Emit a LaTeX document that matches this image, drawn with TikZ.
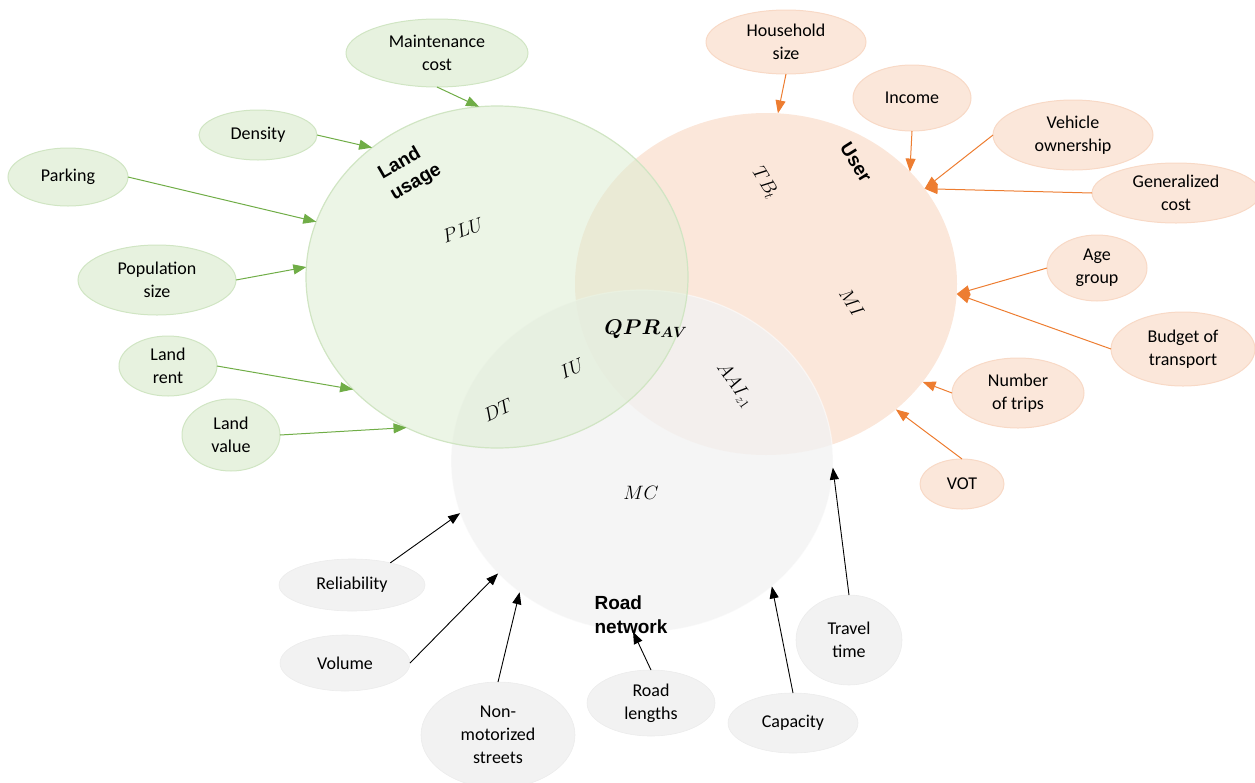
\documentclass[tikz,border=0pt]{standalone}
\usepackage{fontspec}
\setmainfont{Carlito}
\newfontfamily\arialfont{Liberation Sans}
\usepackage{bm}
\usetikzlibrary{arrows.meta,shapes.geometric}
\definecolor{gfill}{HTML}{DDEDD2}
\definecolor{gline}{HTML}{D0E5C3}
\definecolor{ofill}{HTML}{FBE7DA}
\definecolor{oline}{HTML}{F8D9C6}
\definecolor{kfill}{HTML}{F2F2F2}
\definecolor{garrow}{HTML}{70AD47}
\definecolor{oarrow}{HTML}{ED7D31}
\begin{document}
\begin{tikzpicture}[x=1pt,y=-1pt,
  every node/.style={inner sep=0pt,outer sep=0pt,font=\fontsize{18}{23}\selectfont,align=center},
  bigc/.style={ellipse,minimum width=382pt,minimum height=342pt},
  gnode/.style={ellipse,fill=gfill!70!white,draw=gline,line width=1pt},
  onode/.style={ellipse,fill=ofill,draw=oline,line width=1pt},
  knode/.style={ellipse,fill=kfill,draw=kfill!92!black!60!white,line width=0.6pt},
  garr/.style={draw=garrow,line width=1pt,-{Triangle[length=13pt,width=10pt]}},
  oarr/.style={draw=oarrow,line width=1pt,-{Triangle[length=13pt,width=10pt]}},
  karr/.style={draw=black,line width=0.9pt,-{Triangle[length=12pt,width=9pt]}},
  tlabel/.style={font=\arialfont\bfseries\fontsize{19}{24}\selectfont,align=left},
  mlabel/.style={font=\fontsize{17.28}{21}\selectfont,scale=1.12}
]
\useasboundingbox (0,0) rectangle (1255,782);
% big circles
\node[bigc,fill=ofill] (US) at (766,284) {};
\node[bigc,fill=kfill,fill opacity=0.8,draw=white,draw opacity=0.5,line width=1.2pt] (RN) at (642,461) {};
\node[bigc,fill=gfill,fill opacity=0.55,draw=gline,line width=1.2pt] (LU) at (497,277) {};

% circle labels
\node[tlabel,rotate=30] (lulab) at (410,172) {Land\\ usage};
\node[tlabel,rotate=-58] (uslab) at (856,162) {User};
\node[tlabel] (rnlab) at (631,615) {Road\\network};

\node[mlabel,rotate=20] (plu) at (463,230) {$PLU$};
\node[mlabel,scale=1.1] (qpr) at (646,329) {$\bm{QPR}_{\bm{AV}}$};
\node[mlabel,rotate=25] (iu) at (572,368) {$IU$};
\node[mlabel,rotate=25] (dt) at (498,410) {$DT$};
\node[mlabel,rotate=-58] (tb) at (765,183) {$TB_t$};
\node[mlabel,rotate=-58] (mi) at (852,303) {$MI$};
\node[mlabel,rotate=-55] (aai) at (735,385) {$AAI_{z1}$};
\node[mlabel] (mc) at (641,493) {$MC$};

% green nodes
\node[gnode,minimum width=182pt,minimum height=68pt] (mcost) at (437,53) {Maintenance\\cost};
\node[gnode,minimum width=118pt,minimum height=50pt] (dens) at (258,135) {Density};
\node[gnode,minimum width=120pt,minimum height=58pt] (park) at (68,177) {Parking};
\node[gnode,minimum width=158pt,minimum height=70pt] (pop) at (157,280) {Population\\size};
\node[gnode,minimum width=98pt,minimum height=60pt] (lrent) at (168,366) {Land\\rent};
\node[gnode,minimum width=98pt,minimum height=72pt] (lval) at (231,435) {Land\\value};

% orange nodes
\node[onode,minimum width=160pt,minimum height=64pt] (hh) at (786,42) {Household\\size};
\node[onode,minimum width=118pt,minimum height=66pt] (inc) at (912,98) {Income};
\node[onode,minimum width=160pt,minimum height=70pt] (veh) at (1073,135) {Vehicle\\ownership};
\node[onode,minimum width=168pt,minimum height=60pt] (gen) at (1176,193) {Generalized\\cost};
\node[onode,minimum width=100pt,minimum height=66pt] (age) at (1097,268) {Age\\group};
\node[onode,minimum width=144pt,minimum height=74pt] (bud) at (1183,349) {Budget of\\transport};
\node[onode,minimum width=132pt,minimum height=70pt] (nt) at (1018,393) {Number\\of trips};
\node[onode,minimum width=84pt,minimum height=50pt] (vot) at (962,484) {VOT};

% gray nodes
\node[knode,minimum width=146pt,minimum height=52pt] (rel) at (352,585) {Reliability};
\node[knode,minimum width=130pt,minimum height=56pt] (vol) at (345,663) {Volume};
\node[knode,minimum width=154pt,minimum height=106pt] (nms) at (498,735) {Non-\\motorized\\streets};
\node[knode,minimum width=128pt,minimum height=66pt] (rl) at (651,703) {Road\\lengths};
\node[knode,minimum width=130pt,minimum height=60pt] (cap) at (793,723) {Capacity};
\node[knode,minimum width=106pt,minimum height=90pt] (tt) at (849,640) {Travel\\time};

% green arrows
\draw[garr] (mcost.south) -- (LU.96.6);
\draw[garr] (dens.east) -- (LU.134.5);
\draw[garr] (park.east) -- (LU.163);
\draw[garr] (pop.east) -- (LU.177);
\draw[garr] (lrent.east) -- (LU.218.3);
\draw[garr] (lval.east) -- (LU.239.2);

% orange arrows
\draw[oarr] (hh.south) -- (US.86.7);
\draw[oarr] (inc.south) -- (US.38.8);
\draw[oarr] (veh.west) -- (US.31);
\draw[oarr] (gen.west) -- (US.31);
\draw[oarr] (age.west) -- (US.-3);
\draw[oarr] (bud.west) -- (US.-3);
\draw[oarr] (nt.west) -- (US.-32.3);
\draw[oarr] (vot.north) -- (US.-44.6);

% black arrows
\draw[karr] (rel.30) -- (RN.196.6);
\draw[karr] (vol.east) -- (RN.218.5);
\draw[karr] (nms.north) -- (RN.227.5);
\draw[karr] (rl.north) -- (RN.267.3);
\draw[karr] (cap.north) -- (RN.-44.8);
\draw[karr] (tt.north) -- (RN.-2.7);
\end{tikzpicture}
\end{document}
